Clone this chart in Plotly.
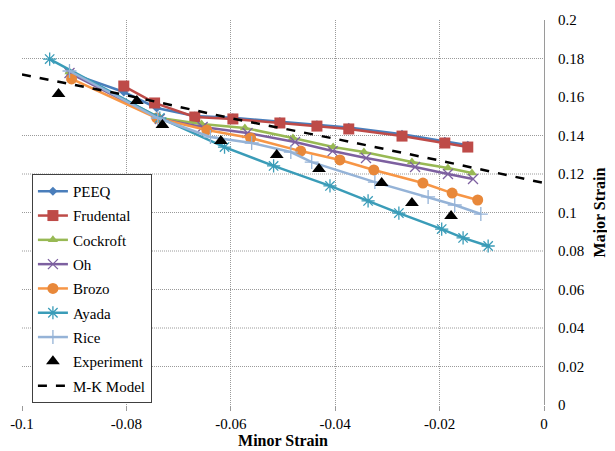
import plotly.graph_objects as go

# ---------------- data ----------------
peeq_x = [-0.0909, -0.0805, -0.0742, -0.0669, -0.0596, -0.0506, -0.0435, -0.0374, -0.0272, -0.0190, -0.0146]
peeq_y = [0.1725, 0.1626, 0.1543, 0.1501, 0.1492, 0.1472, 0.1456, 0.1442, 0.1406, 0.1370, 0.1349]

frud_x = [-0.0805, -0.0746, -0.0669, -0.0596, -0.0506, -0.0435, -0.0374, -0.0272, -0.0190, -0.0146]
frud_y = [0.1657, 0.1569, 0.1496, 0.1486, 0.1465, 0.1449, 0.1434, 0.1397, 0.1361, 0.1340]

cock_x = [-0.0909, -0.0736, -0.0656, -0.0573, -0.0481, -0.0404, -0.0345, -0.0253, -0.0184, -0.0138]
cock_y = [0.1730, 0.1491, 0.1460, 0.1439, 0.1387, 0.1340, 0.1314, 0.1262, 0.1231, 0.1205]

oh_x = [-0.0909, -0.0736, -0.0654, -0.0568, -0.0477, -0.0405, -0.0341, -0.0247, -0.0184, -0.0136]
oh_y = [0.1725, 0.1486, 0.1444, 0.1413, 0.1366, 0.1319, 0.1283, 0.1236, 0.1200, 0.1174]

brozo_x = [-0.0905, -0.0742, -0.0646, -0.0562, -0.0466, -0.0391, -0.0326, -0.0232, -0.0176, -0.0127]
brozo_y = [0.1694, 0.1491, 0.1429, 0.1387, 0.1319, 0.1273, 0.1221, 0.1153, 0.1101, 0.1065]

ayada_x = [-0.0947, -0.0736, -0.0612, -0.0518, -0.0410, -0.0337, -0.0278, -0.0196, -0.0155, -0.0107]
ayada_y = [0.1797, 0.1491, 0.1340, 0.1242, 0.1138, 0.1060, 0.0997, 0.0914, 0.0868, 0.0826]

rice_x = [-0.0909, -0.0740, -0.0639, -0.0560, -0.0485, -0.0445, -0.0324, -0.0222, -0.0171, -0.0121]
rice_y = [0.1735, 0.1491, 0.1392, 0.1361, 0.1314, 0.1262, 0.1158, 0.1081, 0.1039, 0.0992]

exp_x = [-0.0930, -0.0780, -0.0731, -0.0619, -0.0512, -0.0431, -0.0311, -0.0253, -0.0178]
exp_y = [0.1616, 0.1579, 0.1455, 0.1371, 0.1299, 0.1226, 0.1153, 0.1049, 0.0982]

mk_x = [-0.1, -0.08, -0.06, -0.04, -0.02, 0.0]
mk_y = [0.1717, 0.1609, 0.1490, 0.1383, 0.1270, 0.1153]

x_ticks = [-0.1, -0.08, -0.06, -0.04, -0.02, 0]
x_ticktext = ["-0.1", "-0.08", "-0.06", "-0.04", "-0.02", "0"]
y_ticks = [0, 0.02, 0.04, 0.06, 0.08, 0.1, 0.12, 0.14, 0.16, 0.18, 0.2]
y_ticktext = ["0", "0.02", "0.04", "0.06", "0.08", "0.1", "0.12", "0.14", "0.16", "0.18", "0.2"]
y_grid = [0.02, 0.04, 0.06, 0.08, 0.1, 0.12, 0.14, 0.18]

FONT = "Liberation Serif, Times New Roman, serif"
GRID = "#9a9a9a"
GRIDDASH = "1px,1px"

fig = go.Figure()

def series(name, x, y, color, symbol, size, mcolor=None, mline=None, lw=2.5):
    marker = dict(symbol=symbol, size=size, color=mcolor or color)
    if mline is not None:
        marker["line"] = dict(color=mline, width=1.3)
    fig.add_trace(go.Scatter(x=x, y=y, name=name, mode="lines+markers",
                             line=dict(color=color, width=lw),
                             marker=marker, legendgroup=name))

series("PEEQ", peeq_x, peeq_y, "#4A7EBB", "diamond", 7)
series("Frudental", frud_x, frud_y, "#BE4B48", "square", 11)
series("Cockroft", cock_x, cock_y, "#98B954", "triangle-up", 9)
series("Oh", oh_x, oh_y, "#7D60A0", "x-thin-open", 10, mline="#9C85C0")
series("Brozo", brozo_x, brozo_y, "#F79646", "circle", 11, mcolor="#E8883A")
series("Ayada", ayada_x, ayada_y, "#3A9CB8", "asterisk-open", 11, mline="#5FB8D0")
series("Rice", rice_x, rice_y, "#95B3D7", "cross-thin-open", 10, mline="#95B3D7")

fig.add_trace(go.Scatter(x=exp_x, y=exp_y, name="Experiment", mode="markers",
                         marker=dict(symbol="triangle-up", size=12, color="black"),
                         legendgroup="Experiment"))
fig.add_trace(go.Scatter(x=mk_x, y=mk_y, name="M-K Model", mode="lines",
                         line=dict(color="black", width=2.5, dash="dash"),
                         legendgroup="MK"))

for gy in y_grid:
    fig.add_shape(type="line", xref="x", yref="y", x0=-0.1, x1=0, y0=gy, y1=gy,
                  line=dict(color=GRID, width=1, dash=GRIDDASH), layer="below")

# page body has an 8px margin, so the figure is sized and offset to compensate
fig.update_layout(
    width=607, height=443,
    margin=dict(l=14, r=71, t=12, b=46),
    paper_bgcolor="white", plot_bgcolor="white",
    font=dict(family=FONT, size=15, color="black"),
    showlegend=True,
    legend=dict(x=0.019, y=0.60, xanchor="left", yanchor="top",
                bgcolor="white", bordercolor="#404040", borderwidth=1,
                font=dict(family=FONT, size=15, color="black"),
                tracegroupgap=1.8, traceorder="grouped"),
)

fig.update_xaxes(range=[-0.1, 0], tickvals=x_ticks, ticktext=x_ticktext,
                 showgrid=True, gridcolor=GRID, griddash=GRIDDASH, gridwidth=1,
                 zeroline=False, showline=False, automargin=False,
                 ticks="outside", ticklen=5, tickcolor=GRID,
                 tickfont=dict(family=FONT, size=15),
                 title=dict(text="<b>Minor Strain</b>", font=dict(family=FONT, size=16), standoff=2))

fig.update_yaxes(range=[0, 0.2], side="right", tickvals=y_ticks, ticktext=y_ticktext,
                 showgrid=False, zeroline=False, automargin=False,
                 showline=True, linecolor=GRID, linewidth=1,
                 ticks="", ticklabelstandoff=10,
                 tickfont=dict(family=FONT, size=15),
                 title=dict(text="<b>Major Strain</b>", font=dict(family=FONT, size=16), standoff=10))

fig.write_html("out.html")
